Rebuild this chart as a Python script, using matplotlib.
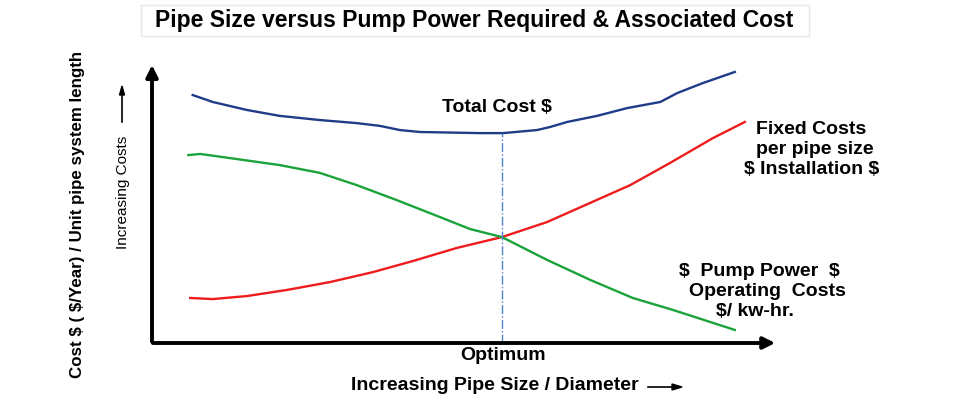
import matplotlib.pyplot as plt
from matplotlib.patches import FancyBboxPatch

plt.rcParams['font.family'] = ['Liberation Sans', 'DejaVu Sans']
plt.rcParams['text.parse_math'] = False

# schematic curves, x = pipe size (0-100), y = cost (0-100)
total_x = [6.5, 9.7, 15.2, 20.4, 26.8, 32.7, 36.4, 39.6, 42.8, 52.4, 56.1, 61.5, 63.6, 66.3,
           71.1, 75.9, 81.2, 83.9, 88.0, 93.1]
total_y = [89.2, 86.7, 83.8, 81.7, 80.2, 79.1, 78.1, 76.6, 75.9, 75.5, 75.5, 76.6, 77.7, 79.5,
           81.7, 84.5, 86.7, 89.9, 93.5, 97.5]

fixed_x = [6.1, 9.7, 15.2, 21.6, 28.4, 35.3, 41.7, 48.7, 55.9, 63.1, 70.0, 76.4, 82.7, 89.6, 94.7]
fixed_y = [16.2, 15.8, 16.9, 19.1, 21.9, 25.5, 29.5, 34.2, 38.1, 43.5, 50.4, 56.8, 64.7, 73.7, 79.5]

pump_x = [5.8, 7.7, 12.5, 20.4, 26.8, 32.7, 39.1, 46.0, 50.8, 55.9, 63.1, 70.0, 76.8, 83.2, 93.1]
pump_y = [67.6, 68.0, 66.5, 64.0, 61.2, 56.8, 51.4, 45.3, 41.0, 38.1, 29.9, 22.7, 16.2, 11.9, 4.7]

optimum_x = 55.9
optimum_top = 75.5

W, H = 980, 400


def px(x, y):
    return x / W, 1 - y / H


fig = plt.figure(figsize=(9.8, 4), dpi=100)
ax = fig.add_axes([152 / W, 57 / H, 626 / W, 278 / H])
ax.set_xlim(0, 100)
ax.set_ylim(0, 100)
ax.axis('off')

ax.plot(total_x, total_y, color='#1f3c88', lw=1.7, solid_joinstyle='round')
ax.plot(fixed_x, fixed_y, color='#ee1c1c', lw=1.7, solid_joinstyle='round')
ax.plot(pump_x, pump_y, color='#1aa33a', lw=1.7, solid_joinstyle='round')
ax.plot([optimum_x, optimum_x], [0, optimum_top], color='#4a86c8', lw=1, ls='-.')

# axes with arrows
ax.annotate('', xy=(0, 101), xytext=(0, -0.5),
            arrowprops=dict(arrowstyle='-|>,head_width=0.35,head_length=0.7', color='black', lw=2.8),
            annotation_clip=False)
ax.annotate('', xy=(100, 0), xytext=(-0.3, 0),
            arrowprops=dict(arrowstyle='-|>,head_width=0.35,head_length=0.7', color='black', lw=2.8),
            annotation_clip=False)

bold = dict(fontweight='bold', fontsize=14, ha='center', va='center')
fig.text(*px(497, 107), 'Total Cost $', **bold)
fig.text(*px(811, 130), 'Fixed Costs', **bold)
fig.text(*px(815, 150), 'per pipe size', **bold)
fig.text(*px(812, 169), '$ Installation $', **bold)
fig.text(*px(759, 272), '$  Pump Power  $', **bold)
fig.text(*px(767, 292), 'Operating  Costs', **bold)
fig.text(*px(755, 312), '$/ kw-hr.', **bold)
fig.text(*px(503, 355), 'Optimum', **bold)

fig.text(*px(495, 385), 'Increasing Pipe Size / Diameter', **bold)
fig.add_artist(plt.Line2D([648 / W, 674 / W], [1 - 387 / H] * 2, color='black', lw=1.2))
fig.add_artist(plt.Polygon([px(682, 387), px(672, 384), px(672, 390)], color='black'))

fig.text(*px(78, 214), 'Cost $ ( $/Year) / Unit pipe system length', rotation=90,
         fontweight='bold', fontsize=12.2, ha='center', va='center')
fig.text(*px(123, 192), 'Increasing Costs', rotation=90, fontsize=11, ha='center', va='center')
fig.add_artist(plt.Line2D([122 / W] * 2, [1 - 122 / H, 1 - 93 / H], color='black', lw=1.2))
fig.add_artist(plt.Polygon([px(122, 86), px(119.5, 95), px(124.5, 95)], color='black'))

# title box
box = FancyBboxPatch(px(141, 36), 668 / W, 31 / H, boxstyle='square,pad=0',
                     transform=fig.transFigure, facecolor='white', edgecolor='#e3e8ee', lw=1)
fig.add_artist(box)
fig.text(*px(474, 20), 'Pipe Size versus Pump Power Required & Associated Cost',
         fontweight='bold', fontsize=16.5, ha='center', va='center')

fig.savefig('out.png', dpi=100)
